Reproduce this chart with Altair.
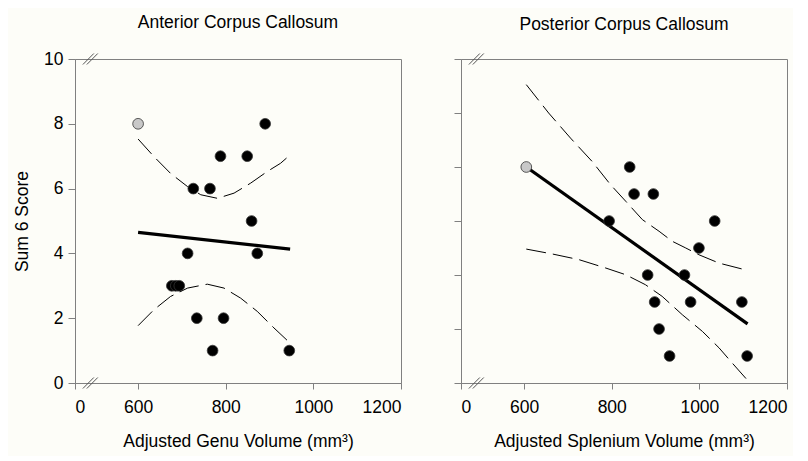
import altair as alt
import pandas as pd

# ---------------- data ----------------
genu_x = [600, 890, 788, 849, 726, 764, 859, 713, 872, 677, 686, 694, 734, 795, 770, 945]
genu_y = [8, 8, 7, 7, 6, 6, 5, 4, 4, 3, 3, 3, 2, 2, 1, 1]
genu_grp = ["out"] + ["in"] * 15

splen_x = [605, 841, 851, 895, 794, 1035, 999, 882, 966, 898, 980, 1097, 908, 932, 1109]
splen_y = [8, 8, 7, 7, 6, 6, 5, 4, 4, 3, 3, 3, 2, 1, 1]
splen_grp = ["out"] + ["in"] * 14

genu_fit_x = [600, 947]
genu_fit_y = [4.65, 4.13]
splen_fit_x = [605, 1110]
splen_fit_y = [8.0, 2.19]

genu_up_x = [600, 636, 674, 713, 743, 781, 819, 857, 895, 925, 947]
genu_up_y = [7.53, 6.99, 6.47, 6.06, 5.81, 5.70, 5.86, 6.17, 6.53, 6.78, 7.04]
genu_lo_x = [600, 636, 674, 713, 758, 796, 834, 872, 910, 947]
genu_lo_y = [1.77, 2.26, 2.67, 2.93, 3.05, 2.93, 2.62, 2.21, 1.70, 1.23]

splen_up_x = [605, 656, 706, 755, 797, 832, 870, 908, 938, 969, 999, 1045, 1098]
splen_up_y = [11.05, 10.0, 9.07, 8.21, 7.35, 6.73, 6.05, 5.62, 5.25, 5.0, 4.75, 4.44, 4.22]
splen_lo_x = [605, 664, 725, 786, 832, 877, 915, 961, 1007, 1045, 1075, 1110]
splen_lo_y = [4.96, 4.78, 4.57, 4.26, 4.01, 3.64, 3.21, 2.53, 1.91, 1.30, 0.74, 0.10]

x_ticks = [456, 600, 800, 1000, 1200]
x_domain = [456, 1200]

# axis-break slash positions (data units)
brk_x = [474, 483]
brk_x2 = [499, 508]

FONT = "Liberation Sans"
BG = "#FDFDF8"
FRAME = "#808080"


def panel(title, xt, px, py, pg, fx, fy, ux, uy, lx, ly, ymax, ytitle, show_ylabels):
    pts = pd.DataFrame({"x": px, "y": py, "g": pg})
    fit = pd.DataFrame({"x": fx, "y": fy})
    up = pd.DataFrame({"x": ux, "y": uy})
    lo = pd.DataFrame({"x": lx, "y": ly})

    xaxis = alt.Axis(
        values=x_ticks, format="d",
        labelExpr="datum.value < 500 ? '0' : datum.label",
        title=xt, titlePadding=17, labelPadding=9, tickSize=6,
    )
    yaxis_kwargs = dict(values=list(range(0, ymax + 1, 2)), tickSize=7, labelPadding=5)
    if show_ylabels:
        yaxis = alt.Axis(title=ytitle, titlePadding=12, **yaxis_kwargs)
    else:
        yaxis = alt.Axis(title=None, labels=False, **yaxis_kwargs)

    xs = alt.Scale(domain=x_domain, nice=False, zero=False)
    ys = alt.Scale(domain=[0, ymax], nice=False, zero=False)

    base_x = alt.X("x:Q", scale=xs, axis=xaxis)
    base_y = alt.Y("y:Q", scale=ys, axis=yaxis)

    up_l = alt.Chart(up).mark_line(color="black", strokeWidth=1, strokeDash=[20, 7]).encode(
        x=base_x, y=base_y)
    lo_l = alt.Chart(lo).mark_line(color="black", strokeWidth=1, strokeDash=[20, 7]).encode(
        x="x:Q", y="y:Q")
    fit_l = alt.Chart(fit).mark_line(color="black", strokeWidth=3.2).encode(x="x:Q", y="y:Q")
    pts_l = alt.Chart(pts).mark_point(filled=True, size=115, opacity=1, strokeWidth=0.8,
                                     stroke="#333333").encode(
        x="x:Q", y="y:Q",
        fill=alt.Fill("g:N", scale=alt.Scale(domain=["in", "out"], range=["black", "#C8C8C8"]),
                      legend=None),
    )

    dy = ymax * 0.017
    brk = pd.DataFrame({
        "x": brk_x + brk_x,
        "x2": brk_x2 + brk_x2,
        "y": [-dy, -dy, ymax - dy, ymax - dy],
        "y2": [dy, dy, ymax + dy, ymax + dy],
    })
    brk_l = alt.Chart(brk).mark_rule(color="#555555", strokeWidth=1).encode(
        x="x:Q", x2="x2:Q", y="y:Q", y2="y2:Q")

    return alt.layer(up_l, lo_l, fit_l, brk_l, pts_l).properties(
        width=326, height=324,
        title=alt.TitleParams(title, fontSize=17.5, font=FONT, fontWeight="normal",
                              color="black", offset=19),
    )


left = panel("Anterior Corpus Callosum", "Adjusted Genu Volume (mm³)",
             genu_x, genu_y, genu_grp, genu_fit_x, genu_fit_y,
             genu_up_x, genu_up_y, genu_lo_x, genu_lo_y, 10, "Sum 6 Score", True)
right = panel("Posterior Corpus Callosum", "Adjusted Splenium Volume (mm³)",
              splen_x, splen_y, splen_grp, splen_fit_x, splen_fit_y,
              splen_up_x, splen_up_y, splen_lo_x, splen_lo_y, 12, None, False)

chart = alt.hconcat(left, right, spacing=51).configure(
    background=BG, padding={"left": 5, "top": 5, "right": 5, "bottom": 5}
).configure_view(
    stroke=FRAME, strokeWidth=1, fill=BG
).configure_axis(
    grid=False, domainColor=FRAME, tickColor=FRAME, labelColor="black", titleColor="black",
    labelFont=FONT, titleFont=FONT, labelFontSize=17.5, titleFontSize=17.5,
    titleFontWeight="normal",
)

chart.save("out.html", embed_options={"renderer": "svg", "actions": False})
